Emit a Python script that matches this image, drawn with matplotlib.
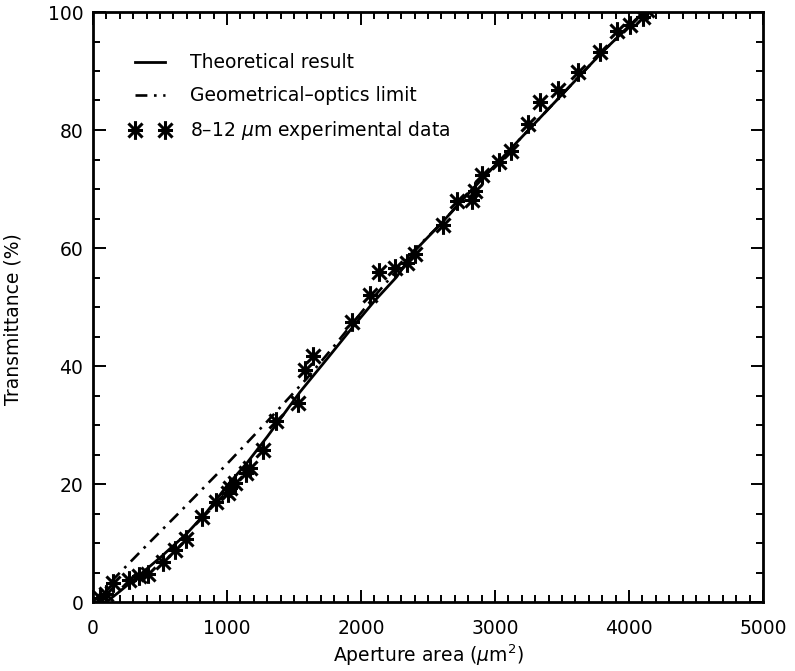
import matplotlib
matplotlib.use('Agg')
import matplotlib.pyplot as plt
from matplotlib.path import Path
from matplotlib.lines import Line2D
from matplotlib.ticker import MultipleLocator

# === DATI ===
teoria_x = [100, 200, 375, 500, 700, 850, 1000, 1150, 1300, 1545, 1750, 1942,
            2100, 2266, 2400, 2600, 2800, 3000, 3200, 3400, 3600, 3800, 4000, 4110, 4200]
teoria_y = [0.0, 1.8, 5.1, 7.5, 11.6, 15.3, 19.7, 23.6, 28.0, 35.6, 41.3, 46.7,
            51.0, 55.1, 59.5, 64.2, 69.2, 74.0, 78.8, 83.6, 88.4, 93.2, 97.6, 100.0, 102.0]

geom_x = [0, 150, 400, 650, 1000, 1300, 1600, 1800, 2100, 2400,
          2600, 2800, 3000, 3200, 3400, 3600, 3800, 4000, 4110, 4200]
geom_y = [0.0, 3.8, 9.6, 15.3, 23.4, 30.6, 38.0, 43.4, 51.8, 59.7,
          64.2, 69.2, 74.0, 78.8, 83.6, 88.4, 93.2, 97.6, 100.0, 102.0]

exp_x = [50, 100, 152, 270, 345, 413, 520, 612, 697, 817, 915, 1010, 1022, 1060,
         1140, 1175, 1265, 1362, 1532, 1582, 1644, 1930, 2067, 2137, 2254, 2341,
         2406, 2614, 2714, 2826, 2851, 2901, 3030, 3118, 3249, 3336, 3473, 3622,
         3784, 3908, 4010, 4107, 4132]
exp_y = [0.6, 1.4, 3.3, 3.8, 4.4, 4.7, 6.7, 8.8, 10.6, 14.4, 17.0, 18.4, 19.4, 20.1,
         21.8, 22.7, 25.7, 30.7, 33.7, 39.3, 41.7, 47.5, 52.0, 56.0, 56.6, 57.4,
         59.0, 63.9, 67.9, 68.1, 69.6, 72.4, 74.6, 76.4, 81.1, 84.8, 86.8, 89.9,
         93.3, 96.7, 97.8, 99.2, 100.3]

# asterisco stile IDL
d = 0.75
asterisco = Path([(0, -1), (0, 1), (-d, -d), (d, d), (-d, d), (d, -d), (-0.8, 0), (0.8, 0)],
                 [Path.MOVETO, Path.LINETO] * 4)
tratteggio = (4.5, 2.5, 1, 2.5)

plt.rcParams['font.family'] = ['DejaVu Sans']
plt.rcParams['font.size'] = 13.5

fig = plt.figure(figsize=(7.95, 6.71), dpi=100)
ax = fig.add_axes([93 / 795, (671 - 602) / 671, 670 / 795, 590 / 671])

ax.plot(teoria_x, teoria_y, color='black', lw=2.0)
ax.plot(geom_x, geom_y, color='black', lw=1.9, dashes=tratteggio)
ax.plot(exp_x, exp_y, linestyle='none', marker=asterisco, markersize=13.5,
        markeredgewidth=2.2, color='black')

ax.set_xlim(0, 5000)
ax.set_ylim(0, 100)
ax.xaxis.set_major_locator(MultipleLocator(1000))
ax.xaxis.set_minor_locator(MultipleLocator(100))
ax.yaxis.set_major_locator(MultipleLocator(20))
ax.yaxis.set_minor_locator(MultipleLocator(5))
ax.tick_params(which='both', direction='in', top=True, right=True, width=1.4)
ax.tick_params(which='major', length=9)
ax.tick_params(which='minor', length=5)
ax.tick_params(axis='x', which='major', pad=12)
ax.tick_params(axis='y', which='major', pad=7)
for s in ax.spines.values():
    s.set_linewidth(2.0)

ax.set_xlabel('Aperture area ($\\mu$m$^2$)')
ax.set_ylabel('Transmittance (%)')
ax.xaxis.set_label_coords(0.5, -0.068)
ax.yaxis.set_label_coords(-0.105, 0.48)

maniglie = [
    Line2D([], [], color='black', lw=2.0),
    Line2D([], [], color='black', lw=1.9, dashes=tratteggio),
    Line2D([], [], linestyle='none', marker=asterisco, markersize=13.5,
           markeredgewidth=2.2, color='black'),
]
etichette = ['Theoretical result', 'Geometrical\u2013optics limit',
             '8\u201312 $\\mu$m experimental data']
ax.legend(maniglie, etichette, loc='upper left', bbox_to_anchor=(0.055, 0.93),
          frameon=False, borderpad=0, borderaxespad=0, handlelength=2.2,
          handletextpad=1.0, labelspacing=0.75, numpoints=2)

fig.savefig('out.png', dpi=100)
